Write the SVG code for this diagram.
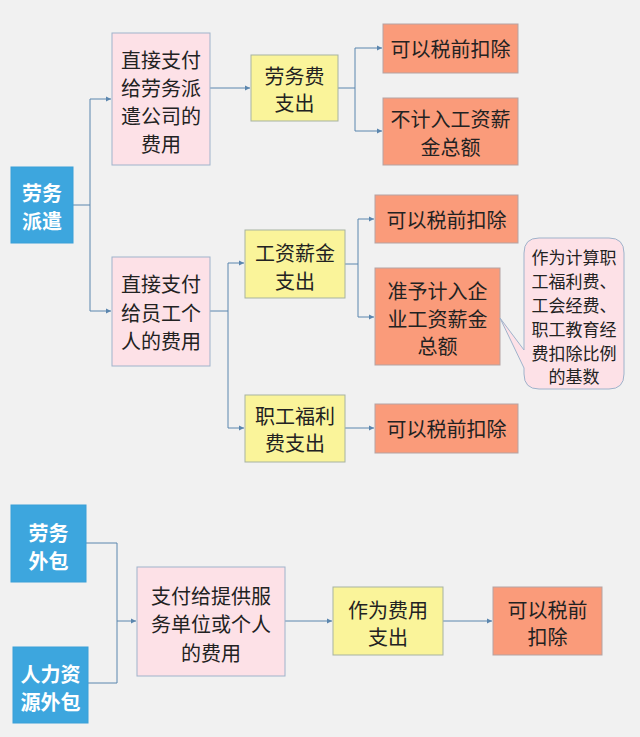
<svg xmlns="http://www.w3.org/2000/svg" width="640" height="737" viewBox="0 0 640 737">
<defs>
<marker id="arr" markerWidth="6" markerHeight="6" refX="5" refY="3" orient="auto" markerUnits="userSpaceOnUse">
<path d="M0,0.5 L5,3 L0,5.5 Z" fill="#5b86ae"/>
</marker>
<style>
text{font-family:"Noto Sans CJK SC","Noto Sans",sans-serif;font-size:20px;fill:#222;text-anchor:middle;dominant-baseline:central}
.blue rect{fill:#3da6de;stroke:#3aa0d8}
.blue text{fill:#fff;font-weight:bold}
.pink rect{fill:#fde1e7;stroke:#9fb3cb;stroke-width:1}
.yel rect{fill:#faf49a;stroke:#a7b3a2;stroke-width:1}
.sal rect{fill:#fa9b7a;stroke:#b5a3a3;stroke-width:1}
.call text{font-size:17px}
.conn path{fill:none;stroke:#5b86ae;stroke-width:1}
</style>
</defs>
<rect width="640" height="737" fill="#f1f1f1"/>

<g class="conn">
<path d="M73,205 H90"/>
<path d="M90,99 V311"/>
<path d="M90,99 H111" marker-end="url(#arr)"/>
<path d="M90,311 H111" marker-end="url(#arr)"/>
<path d="M210,88 H250" marker-end="url(#arr)"/>
<path d="M338,88 H355"/>
<path d="M355,48 V131"/>
<path d="M355,48 H382" marker-end="url(#arr)"/>
<path d="M355,131 H382" marker-end="url(#arr)"/>
<path d="M210,311 H228"/>
<path d="M228,263 V428"/>
<path d="M228,263 H244" marker-end="url(#arr)"/>
<path d="M228,428 H244" marker-end="url(#arr)"/>
<path d="M345,264 H358"/>
<path d="M358,219 V317"/>
<path d="M358,219 H374" marker-end="url(#arr)"/>
<path d="M358,317 H374" marker-end="url(#arr)"/>
<path d="M345,428 H374" marker-end="url(#arr)"/>
<path d="M86,543 H117 V683 H88"/>
<path d="M117,621 H136" marker-end="url(#arr)"/>
<path d="M285,621 H332" marker-end="url(#arr)"/>
<path d="M443,621 H492" marker-end="url(#arr)"/>
</g>

<g id="n-paiqian" class="blue">
<rect x="11" y="167" width="62" height="76"/>
<text x="42" y="192">劳务</text>
<text x="42" y="220">派遣</text>
</g>
<g id="n-pay-company" class="pink">
<rect x="112" y="33" width="98" height="132"/>
<text x="161" y="59">直接支付</text>
<text x="161" y="87">给劳务派</text>
<text x="161" y="115">遣公司的</text>
<text x="161" y="143">费用</text>
</g>
<g id="n-laowufei" class="yel">
<rect x="251" y="55" width="87" height="66"/>
<text x="294.5" y="75">劳务费</text>
<text x="294.5" y="102">支出</text>
</g>
<g id="n-deduct1" class="sal">
<rect x="383" y="24" width="135" height="49"/>
<text x="450.5" y="48.5">可以税前扣除</text>
</g>
<g id="n-notcount" class="sal">
<rect x="383" y="98" width="135" height="67"/>
<text x="450.5" y="118">不计入工资薪</text>
<text x="450.5" y="146">金总额</text>
</g>
<g id="n-pay-employee" class="pink">
<rect x="112" y="257" width="98" height="109"/>
<text x="161" y="283">直接支付</text>
<text x="161" y="312">给员工个</text>
<text x="161" y="340">人的费用</text>
</g>
<g id="n-salary" class="yel">
<rect x="245" y="230" width="100" height="68"/>
<text x="295" y="252">工资薪金</text>
<text x="295" y="280">支出</text>
</g>
<g id="n-welfare" class="yel">
<rect x="245" y="395" width="100" height="67"/>
<text x="295" y="415">职工福利</text>
<text x="295" y="442">费支出</text>
</g>
<g id="n-deduct2" class="sal">
<rect x="375" y="195" width="143" height="48"/>
<text x="446.5" y="219">可以税前扣除</text>
</g>
<g id="n-include" class="sal">
<rect x="375" y="268" width="125" height="97"/>
<text x="437.5" y="290">准予计入企</text>
<text x="437.5" y="318">业工资薪金</text>
<text x="437.5" y="345">总额</text>
</g>
<g id="n-deduct3" class="sal">
<rect x="375" y="404" width="143" height="49"/>
<text x="446.5" y="428.5">可以税前扣除</text>
</g>
<g id="n-callout" class="call">
<path d="M539,238 H609 Q624,238 624,253 V374 Q624,389 609,389 H539 Q524,389 524,374 V368 L500,318 L524,350 V253 Q524,238 539,238 Z" fill="#fde1e7" stroke="#9fb3cb" stroke-width="1"/>
<text x="574" y="256">作为计算职</text>
<text x="574" y="280">工福利费、</text>
<text x="574" y="304">工会经费、</text>
<text x="574" y="328">职工教育经</text>
<text x="574" y="352">费扣除比例</text>
<text x="574" y="375">的基数</text>
</g>

<g id="n-waibao" class="blue">
<rect x="11" y="505" width="75" height="77"/>
<text x="48.5" y="532">劳务</text>
<text x="48.5" y="560">外包</text>
</g>
<g id="n-hr" class="blue">
<rect x="13" y="647" width="75" height="76"/>
<text x="50.5" y="673">人力资</text>
<text x="50.5" y="701">源外包</text>
</g>
<g id="n-pay-provider" class="pink">
<rect x="137" y="567" width="148" height="109"/>
<text x="211" y="595">支付给提供服</text>
<text x="211" y="623">务单位或个人</text>
<text x="211" y="652">的费用</text>
</g>
<g id="n-expense" class="yel">
<rect x="333" y="587" width="110" height="68"/>
<text x="388" y="609">作为费用</text>
<text x="388" y="636">支出</text>
</g>
<g id="n-deduct4" class="sal">
<rect x="493" y="587" width="109" height="68"/>
<text x="547.5" y="609">可以税前</text>
<text x="547.5" y="636">扣除</text>
</g>
</svg>
